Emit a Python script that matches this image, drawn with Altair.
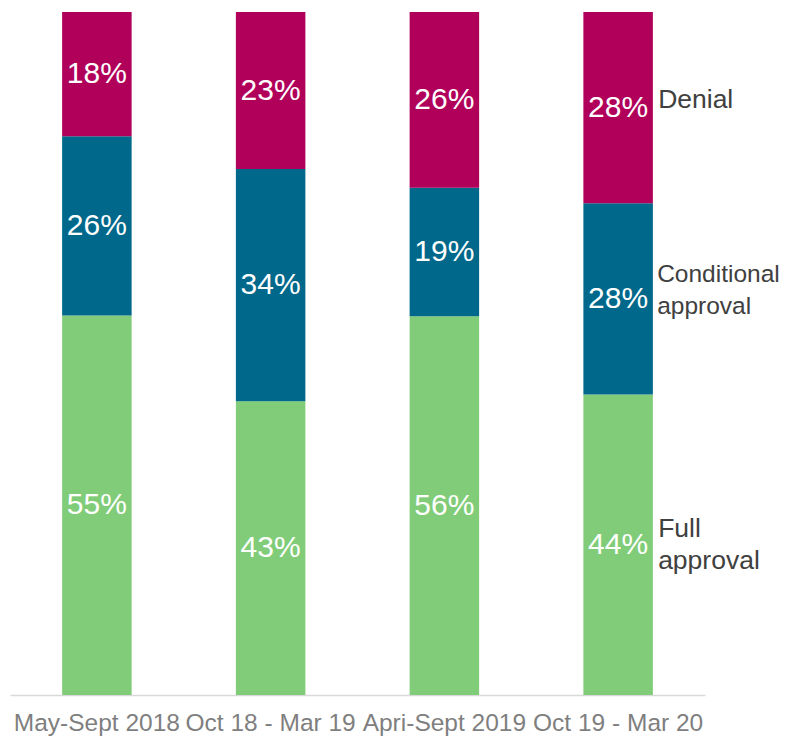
import altair as alt
import pandas as pd

periods = ["May-Sept 2018", "Oct 18 - Mar 19", "Apri-Sept 2019", "Oct 19 - Mar 20"]
full_approval = [55, 43, 56, 44]
conditional_approval = [26, 34, 19, 28]
denial = [18, 23, 26, 28]
segments = ["Full approval", "Conditional approval", "Denial"]
legend_labels = ["Full\napproval", "Conditional\napproval", "Denial"]
colors = ["#80CC78", "#00688B", "#B0005A"]

rows = []
for i, p in enumerate(periods):
    for j, (seg, vals) in enumerate(zip(segments, [full_approval, conditional_approval, denial])):
        rows.append({"period": p, "segment": seg, "order": j, "value": vals[i],
                     "label": f"{vals[i]}%", "legend": legend_labels[j]})
df = pd.DataFrame(rows)

FONT = "Liberation Sans"

base = alt.Chart(df).transform_stack(
    stack="value", groupby=["period"], as_=["y0", "y1"],
    sort=[alt.SortField("order", order="ascending")], offset="normalize"
).transform_calculate(mid="(datum.y0 + datum.y1) / 2")

xenc = alt.X("period:N", sort=periods, title=None,
             scale=alt.Scale(paddingInner=0.6, paddingOuter=0.3),
             axis=alt.Axis(labelAngle=0, labelFontSize=24.5, labelColor="#7F7F7F",
                           labelFont=FONT, ticks=False, domainColor="#D9D9D9",
                           domainWidth=1.5, labelPadding=16))
yscale = alt.Scale(domain=[0, 1])

bars = base.mark_bar().encode(
    x=xenc,
    y=alt.Y("y0:Q", scale=yscale, axis=None),
    y2="y1:Q",
    color=alt.Color("segment:N", scale=alt.Scale(domain=segments, range=colors), legend=None),
)

values = base.mark_text(color="white", fontSize=30, font=FONT).encode(
    x=alt.X("period:N", sort=periods),
    y=alt.Y("mid:Q", scale=yscale),
    text="label:N",
)

def legend_layer(seg, dy, size=26.5, dx=40):
    return base.transform_filter(
        (alt.datum.period == periods[-1]) & (alt.datum.segment == seg)
    ).mark_text(align="left", baseline="middle", fontSize=size, font=FONT, color="#404040",
                lineBreak="\n", lineHeight=32, dx=dx, dy=dy).encode(
        x=alt.X("period:N", sort=periods),
        y=alt.Y("mid:Q", scale=yscale),
        text="legend:N",
    )

chart = alt.layer(
    bars, values,
    legend_layer("Denial", -8),
    legend_layer("Conditional approval", -24, size=24.5, dx=39),
    legend_layer("Full approval", -16),
).properties(
    width=695, height=683,
    autosize=alt.AutoSizeParams(type="none"),
    padding={"left": 2, "top": 4, "right": 76, "bottom": 48},
).configure_view(stroke=None)

chart.save("out.html", embed_options={"renderer": "svg", "actions": False})
